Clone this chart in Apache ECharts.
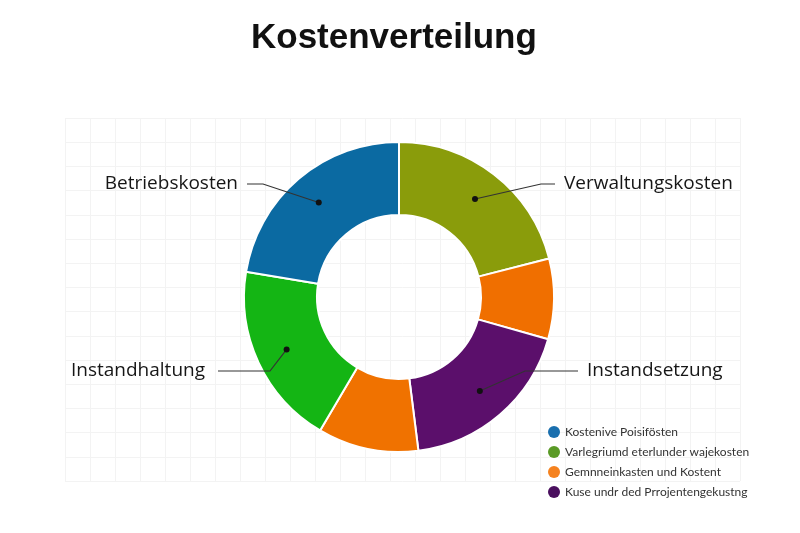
<!DOCTYPE html>
<html><head><meta charset="utf-8">
<script src="https://cdn.jsdelivr.net/npm/echarts@6/dist/echarts.min.js"></script>
<style>html,body{margin:0;padding:0;background:#fff}#c{width:800px;height:533px}</style>
</head><body><div id="c"></div>
<script>
// ---- data ----
const categories = ['Verwaltungskosten', 'Gemeinkosten', 'Instandsetzung', 'Projektkosten', 'Instandhaltung', 'Betriebskosten'];
const values = [21, 8.4, 18.6, 10.5, 19.1, 22.4];
const sliceColors = ['#8a9c0b', '#f06f00', '#5b0f6b', '#f07200', '#14b514', '#0b6aa2'];
const labeledCategories = ['Verwaltungskosten', 'Instandsetzung', 'Instandhaltung', 'Betriebskosten'];
const legendNames = ['Kostenive Poisifösten', 'Varlegriumd eterlunder wajekosten', 'Gemnneinkasten und Kostent', 'Kuse undr ded Prrojentengekustng'];
const legendColors = ['#1a6fae', '#5a9a26', '#f5821f', '#4a0f5e'];

// ---- layout ----
const CX = 399, CY = 297, R_IN = 82, R_OUT = 155, R_DOT = 124;
const labelPlace = {
  Verwaltungskosten: { x: 564, y: 184, align: 'left',  elbow: [541, 184], end: [555, 184] },
  Betriebskosten:    { x: 238, y: 184, align: 'right', elbow: [263, 184], end: [247, 184] },
  Instandsetzung:    { x: 587, y: 371, align: 'left',  elbow: [525, 371], end: [578, 371] },
  Instandhaltung:    { x: 205, y: 371, align: 'right', elbow: [270, 371], end: [218, 371] }
};

const total = values.reduce((a, b) => a + b, 0);
const mids = [];
let acc = 0;
values.forEach(v => { mids.push(acc + v / 2); acc += v; });

const chart = echarts.init(document.getElementById('c'), null, { renderer: 'canvas' });

const pieData = categories.map((c, i) => ({
  name: c, value: values[i], itemStyle: { color: sliceColors[i] }
}));

const labelPieData = categories.map((c, i) => ({
  name: c, value: values[i],
  label: { show: labeledCategories.includes(c) },
  labelLine: { show: labeledCategories.includes(c) }
}));

const dotData = categories
  .map((c, i) => labeledCategories.includes(c) ? [R_DOT, mids[i]] : null)
  .filter(d => d);

const legendSeries = legendNames.map((n, i) => ({
  type: 'scatter', name: n, coordinateSystem: 'polar', data: [],
  itemStyle: { color: legendColors[i], opacity: 1 }
}));

chart.setOption({
  animation: false,
  backgroundColor: '#ffffff',
  title: {
    text: 'Kostenverteilung', left: 246, top: 16,
    textStyle: { fontFamily: 'Liberation Sans, Arial, sans-serif', fontSize: 35, fontWeight: 'bold', color: '#111' }
  },
  grid: { left: 65, right: 60, top: 118, bottom: 52, show: false },
  xAxis: { type: 'value', min: 0, max: 27, interval: 1, axisLine: { show: false }, axisTick: { show: false }, axisLabel: { show: false },
    splitLine: { lineStyle: { color: '#f3f3f3', width: 1 } } },
  yAxis: { type: 'value', min: 0, max: 15, interval: 1, axisLine: { show: false }, axisTick: { show: false }, axisLabel: { show: false },
    splitLine: { lineStyle: { color: '#f3f3f3', width: 1 } } },
  polar: { center: [CX, CY], radius: R_OUT },
  angleAxis: { type: 'value', min: 0, max: total, startAngle: 90, clockwise: true, show: false },
  radiusAxis: { type: 'value', min: 0, max: R_OUT, show: false },
  legend: {
    data: legendNames, orient: 'vertical', left: 543, top: 421, icon: 'circle',
    itemWidth: 12, itemHeight: 12, itemGap: 8,
    textStyle: { fontFamily: 'Lato, sans-serif', fontSize: 12, color: '#333' }
  },
  series: [
    {
      type: 'pie', center: [CX, CY], radius: [R_IN, R_OUT], startAngle: 90, clockwise: true,
      avoidLabelOverlap: false, z: 2, silent: true,
      itemStyle: { borderColor: '#ffffff', borderWidth: 2 },
      label: { show: false }, labelLine: { show: false },
      emphasis: { disabled: true },
      data: pieData
    },
    {
      type: 'pie', center: [CX, CY], radius: [R_IN, R_DOT], startAngle: 90, clockwise: true,
      avoidLabelOverlap: false, z: 4, silent: true,
      itemStyle: { color: 'rgba(0,0,0,0)', borderWidth: 0 },
      label: { position: 'outside', fontFamily: 'Open Sans, sans-serif', fontSize: 19, color: '#161616', formatter: '{b}' },
      labelLine: { lineStyle: { color: '#333', width: 1.2 } },
      emphasis: { disabled: true },
      labelLayout: function (params) {
        const name = categories[params.dataIndex];
        const p = labelPlace[name];
        if (!p) return {};
        const a = mids[params.dataIndex] / total * Math.PI * 2;
        const dot = [CX + Math.sin(a) * R_DOT, CY - Math.cos(a) * R_DOT];
        return { x: p.x, y: p.y, align: p.align, verticalAlign: 'middle', labelLinePoints: [dot, p.elbow, p.end] };
      },
      data: labelPieData
    },
    {
      type: 'scatter', coordinateSystem: 'polar', z: 5, symbolSize: 6, silent: true,
      itemStyle: { color: '#111', opacity: 1 }, data: dotData
    }
  ].concat(legendSeries)
});
</script>
</body></html>
